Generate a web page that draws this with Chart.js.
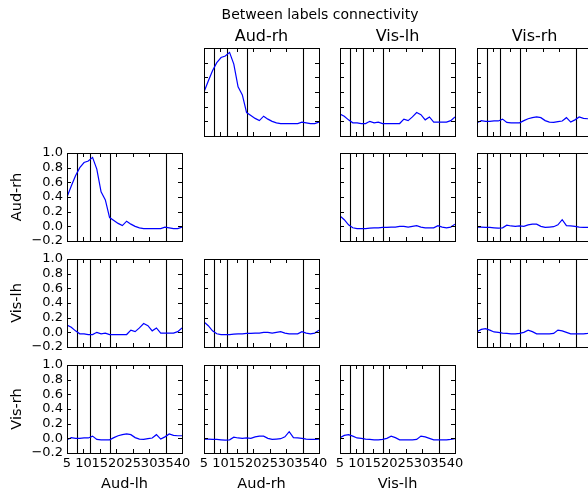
<!DOCTYPE html>
<html><head><meta charset="utf-8">
<script src="https://cdn.jsdelivr.net/npm/chart.js@4"></script>
<style>
html,body{margin:0;padding:0;background:#fff;overflow:hidden;width:588px;height:493px}
#wrap{position:relative;width:588px;height:493px;overflow:hidden;background:#fff}
canvas{position:absolute;left:0;top:0}
</style></head><body><div id="wrap"></div>
<script>
// ---- data ----
const suptitle = 'Between labels connectivity';
const labelNames = ['Aud-lh', 'Aud-rh', 'Vis-lh', 'Vis-rh'];
const freqs = [5.00, 6.30, 7.59, 8.89, 10.19, 11.48, 12.78, 14.07, 15.37, 16.67, 17.96, 19.26, 20.56, 21.85,
               23.15, 24.44, 25.74, 27.04, 28.33, 29.63, 30.93, 32.22, 33.52, 34.81, 36.11, 37.41, 38.70, 40.00];
const audLh_audRh = [0.40, 0.55, 0.69, 0.80, 0.87, 0.89, 0.94, 0.78, 0.47, 0.36, 0.12, 0.08, 0.04, 0.01,
                     0.07, 0.03, 0.00, -0.02, -0.03, -0.03, -0.03, -0.03, -0.03, -0.01, -0.02, -0.03, -0.03, -0.01];
const audLh_visLh = [0.10, 0.07, 0.02, -0.02, -0.02, -0.03, -0.03, 0.00, -0.02, -0.01, -0.03, -0.03, -0.03, -0.03,
                     -0.03, 0.03, 0.01, 0.06, 0.12, 0.09, 0.02, 0.06, -0.01, -0.01, -0.01, -0.01, 0.01, 0.06];
const audLh_visRh = [-0.02, 0.01, 0.00, 0.00, 0.005, 0.005, 0.03, -0.015, -0.02, -0.02, -0.02, 0.01, 0.035, 0.05,
                     0.06, 0.05, 0.01, -0.01, -0.015, -0.005, 0.005, 0.05, -0.01, 0.02, 0.06, 0.04, 0.035, 0.035];
const audRh_visLh = [0.14, 0.09, 0.02, -0.02, -0.03, -0.03, -0.03, -0.025, -0.02, -0.02, -0.015, -0.015, -0.01, -0.01,
                     0.00, 0.00, -0.01, 0.00, 0.01, -0.01, -0.02, -0.02, -0.02, 0.01, -0.01, -0.02, -0.01, 0.03];
const audRh_visRh = [-0.01, -0.01, -0.015, -0.015, -0.02, -0.025, -0.02, 0.015, 0.005, 0.00, 0.005, 0.00, 0.02, 0.03,
                     0.03, 0.00, -0.015, -0.01, -0.005, 0.02, 0.09, 0.01, 0.005, 0.00, -0.01, -0.015, -0.015, -0.01];
const visLh_visRh = [0.01, 0.04, 0.05, 0.03, 0.005, 0.00, -0.01, -0.015, -0.02, -0.02, -0.015, 0.00, 0.03, 0.01,
                     -0.02, -0.02, -0.02, -0.02, -0.015, 0.03, 0.02, 0.00, -0.02, -0.02, -0.02, -0.02, -0.015, -0.005];
const bandEdges = [8, 12, 18, 35];
const xTicks = [5, 10, 15, 20, 25, 30, 35, 40];
const yTicks = [-0.2, 0.0, 0.2, 0.4, 0.6, 0.8, 1.0];

const seriesByPair = {
  '0-1': audLh_audRh, '0-2': audLh_visLh, '0-3': audLh_visRh,
  '1-2': audRh_visLh, '1-3': audRh_visRh, '2-3': visLh_visRh
};

// ---- layout ----
const W = 600, H = 493;
const colLeft = [67, 204, 340, 477], colW = 115;
const rowTop = [48, 153, 259, 365], rowH = 88;
const FONT = 'DejaVu Sans';

const decor = {
  id: 'decor',
  beforeDatasetsDraw(chart) {
    const {ctx, chartArea: a, scales: {x}} = chart;
    ctx.save();
    ctx.strokeStyle = '#000';
    ctx.lineWidth = 1.1;
    bandEdges.forEach(f => {
      const px = Math.round(x.getPixelForValue(f)) + 0.5;
      ctx.beginPath(); ctx.moveTo(px, a.top); ctx.lineTo(px, a.bottom); ctx.stroke();
    });
    ctx.restore();
  },
  afterDatasetsDraw(chart) {
    const {ctx, chartArea: a, scales: {x, y}} = chart;
    ctx.save();
    ctx.strokeStyle = '#000';
    ctx.lineWidth = 1;
    const L = 4;
    ctx.beginPath();
    xTicks.forEach(v => {
      const px = Math.round(x.getPixelForValue(v)) + 0.5;
      ctx.moveTo(px, a.bottom); ctx.lineTo(px, a.bottom - L);
      ctx.moveTo(px, a.top); ctx.lineTo(px, a.top + L);
    });
    yTicks.forEach(v => {
      const py = Math.round(y.getPixelForValue(v)) + 0.5;
      ctx.moveTo(a.left, py); ctx.lineTo(a.left + L, py);
      ctx.moveTo(a.right, py); ctx.lineTo(a.right - L, py);
    });
    ctx.stroke();
    ctx.strokeRect(Math.round(a.left) + 0.5, Math.round(a.top) + 0.5,
                   Math.round(a.right - a.left), Math.round(a.bottom - a.top));
    ctx.restore();
  }
};

const supPlugin = {
  id: 'sup',
  afterDraw(chart) {
    const ctx = chart.ctx;
    ctx.save();
    ctx.font = '14px "' + FONT + '"';
    ctx.fillStyle = '#000';
    ctx.textAlign = 'center';
    ctx.textBaseline = 'middle';
    ctx.fillText(suptitle, 320, 15);
    ctx.restore();
  }
};

const fmtY = v => {
  const s = Math.abs(v) < 1e-9 ? '0.0' : v.toFixed(1);
  return s.replace('-', '\u2212');
};

const wrap = document.getElementById('wrap');
let first = true;
for (let r = 0; r < 4; r++) {
  for (let c = 0; c < 4; c++) {
    if (r === c) continue;
    const a = Math.min(r, c), b = Math.max(r, c);
    const values = seriesByPair[a + '-' + b];
    const showY = c === 0, showX = r === 3, showTitle = r === 0;
    const cv = document.createElement('canvas');
    cv.width = W; cv.height = H;
    cv.style.width = W + 'px'; cv.style.height = H + 'px';
    wrap.appendChild(cv);
    const plugins = [decor];
    if (first) { plugins.push(supPlugin); first = false; }
    new Chart(cv, {
      type: 'line',
      data: {
        datasets: [{
          data: freqs.map((f, i) => ({x: f, y: values[i]})),
          borderColor: '#0000ff',
          borderWidth: 1.2,
          pointRadius: 0,
          tension: 0,
          fill: false
        }]
      },
      options: {
        responsive: false,
        devicePixelRatio: 1,
        animation: false,
        events: [],
        layout: {padding: {left: 0, top: showTitle ? 0 : rowTop[r], right: W - (colLeft[c] + colW), bottom: 0}},
        plugins: {
          legend: {display: false},
          tooltip: {enabled: false},
          title: {
            display: showTitle,
            text: labelNames[c],
            color: '#000',
            fullSize: false,
            font: {family: FONT, size: 16, weight: 'normal'},
            padding: {top: 27.4, bottom: 1.4}
          }
        },
        scales: {
          x: {
            type: 'linear', min: 5, max: 40,
            grid: {display: false, drawTicks: false}, border: {display: false},
            afterBuildTicks: s => { s.ticks = xTicks.map(v => ({value: v})); },
            afterFit: s => { s.height = H - rowTop[r] - rowH; },
            ticks: {display: showX, autoSkip: false, maxRotation: 0, minRotation: 0, padding: 3,
                    color: '#000', font: {family: FONT, size: 13}, callback: v => String(v)},
            title: {display: showX, text: labelNames[c], color: '#000',
                    font: {family: FONT, size: 14.5}, padding: {top: 0, bottom: 0.5}}
          },
          y: {
            type: 'linear', min: -0.2, max: 1.0,
            grid: {display: false, drawTicks: false}, border: {display: false},
            afterBuildTicks: s => { s.ticks = yTicks.map(v => ({value: v})); },
            afterFit: s => { s.width = colLeft[c]; },
            ticks: {display: showY, autoSkip: false, padding: 4, color: '#000',
                    font: {family: FONT, size: 13}, callback: fmtY},
            title: {display: showY, text: labelNames[r], color: '#000',
                    font: {family: FONT, size: 14.5}, padding: {top: 8.3, bottom: 0}}
          }
        }
      },
      plugins: plugins
    });
  }
}
</script></body></html>
